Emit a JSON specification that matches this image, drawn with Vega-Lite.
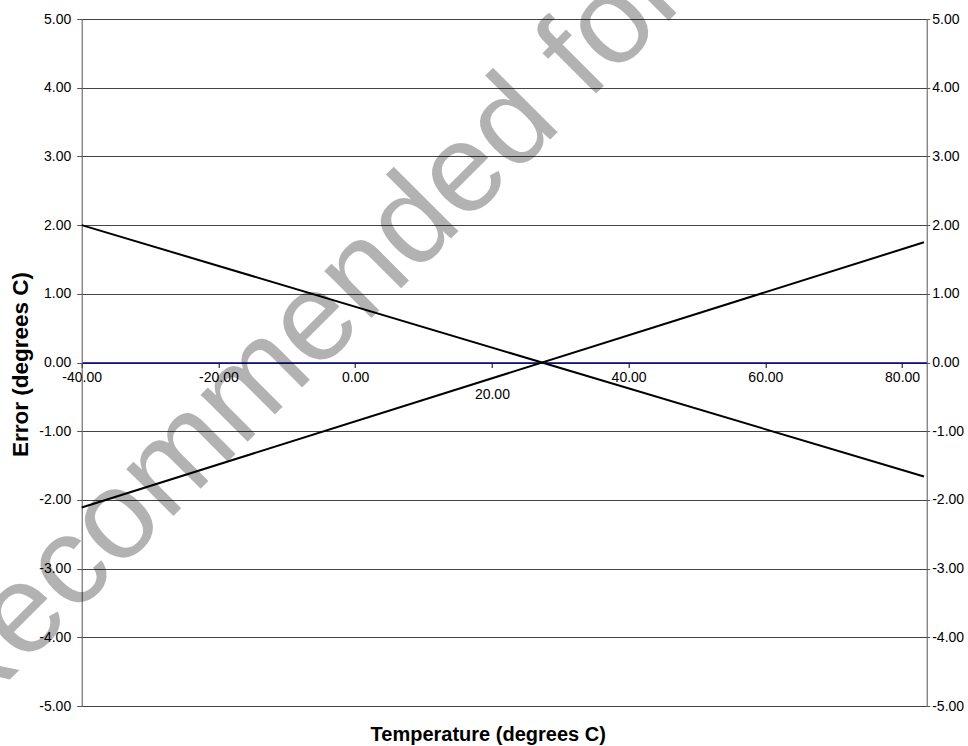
{
  "$schema": "https://vega.github.io/schema/vega-lite/v6.json",
  "width": 845,
  "height": 687,
  "autosize": {"type": "none"},
  "padding": {"left": 81.7, "top": 19, "right": 41.3, "bottom": 40},
  "background": "white",
  "config": {"view": {"stroke": null}, "font": "Liberation Sans"},
  "datasets": {
    "lines": [
      {"series": "A", "temp": -40, "error": 2.0},
      {"series": "A", "temp": 83.2, "error": -1.66},
      {"series": "B", "temp": -40, "error": -2.11},
      {"series": "B", "temp": 83.2, "error": 1.75}
    ],
    "watermark": [
      {"temp": -4.3, "error": -0.02, "label": "Recommended for"}
    ]
  },
  "layer": [
    {
      "data": {"name": "lines"},
      "mark": {"type": "line", "color": "#000000", "strokeWidth": 2},
      "encoding": {
        "x": {
          "field": "temp",
          "type": "quantitative",
          "scale": {"domain": [-40, 83.6], "nice": false, "zero": false},
          "axis": {
            "orient": "bottom",
            "offset": -343.5,
            "values": [-40, -20, 0, 20, 40, 60, 80],
            "labelExpr": "(datum.value < 0 ? '-' : '') + format(abs(datum.value), '.2f')",
            "title": "Temperature (degrees C)",
            "titleFontSize": 20,
            "titleFontWeight": "bold",
            "titleColor": "#000000",
            "titleX": 406,
            "titleY": 378,
            "titleBaseline": "alphabetic",
            "titleAlign": "center",
            "domainColor": "#000080",
            "domainWidth": 1.5,
            "tickColor": "#000000",
            "tickSize": 5,
            "labelFontSize": 14,
            "labelColor": "#000000",
            "labelPadding": {"expr": "datum.value == 20 ? 20 : 3"},
            "labelFlush": false,
            "labelOverlap": false,
            "grid": false
          }
        },
        "y": {
          "field": "error",
          "type": "quantitative",
          "scale": {"domain": [-5, 5], "nice": false},
          "axis": {
            "orient": "left",
            "values": [-5, -4, -3, -2, -1, 0, 1, 2, 3, 4, 5],
            "labelExpr": "(datum.value < 0 ? '-' : '') + format(abs(datum.value), '.2f')",
            "title": "Error (degrees C)",
            "titleFontSize": 22.5,
            "titleFontWeight": "bold",
            "titleColor": "#000000",
            "titleX": -54,
            "titleY": 345,
            "titleAngle": -90,
            "titleBaseline": "alphabetic",
            "titleAlign": "center",
            "domainColor": "#555555",
            "tickColor": "#555555",
            "tickSize": 5,
            "labelPadding": 6,
            "labelFontSize": 14,
            "labelColor": "#000000",
            "labelFlush": false,
            "labelOverlap": false,
            "grid": true,
            "gridColor": "#444444",
            "gridOpacity": 1
          }
        },
        "detail": {"field": "series"}
      }
    },
    {
      "data": {"name": "watermark"},
      "mark": {
        "type": "text",
        "fontSize": 126,
        "angle": -45,
        "align": "center",
        "baseline": "alphabetic",
        "font": "Liberation Sans",
        "fill": "#000000",
        "fillOpacity": 0.3
      },
      "encoding": {
        "x": {
          "field": "temp",
          "type": "quantitative",
          "scale": {"domain": [-40, 83.6], "nice": false, "zero": false}
        },
        "y": {
          "field": "error",
          "type": "quantitative",
          "scale": {"domain": [-5, 5], "nice": false},
          "axis": {
            "orient": "right",
            "values": [-5, -4, -3, -2, -1, 0, 1, 2, 3, 4, 5],
            "labelExpr": "(datum.value < 0 ? '-' : '') + format(abs(datum.value), '.2f')",
            "title": null,
            "domainColor": "#555555",
            "tickColor": "#555555",
            "tickSize": 3,
            "labelPadding": 2,
            "labelFontSize": 14,
            "labelColor": "#000000",
            "labelFlush": false,
            "labelOverlap": false,
            "grid": false
          }
        },
        "text": {"field": "label"}
      }
    }
  ],
  "resolve": {"axis": {"y": "independent"}}
}
